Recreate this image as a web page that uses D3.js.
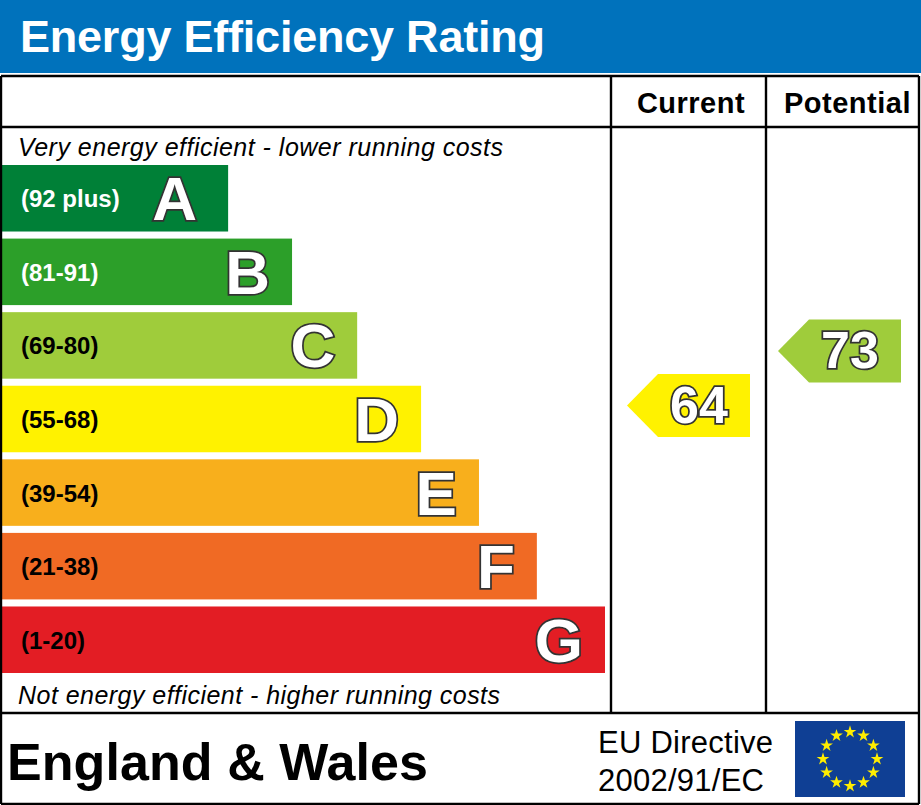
<!DOCTYPE html>
<html>
<head>
<meta charset="utf-8">
<title>Energy Efficiency Rating</title>
<script src="https://d3js.org/d3.v7.min.js"></script>
<style>
html, body { margin: 0; padding: 0; background: #fff; }
svg { display: block; }
text { font-family: "Liberation Sans", Arial, sans-serif; }
</style>
</head>
<body>
<svg id="chart" width="921" height="805"></svg>
<script>
const title = "Energy Efficiency Rating";
const bands = ["A", "B", "C", "D", "E", "F", "G"];
const ranges = ["(92 plus)", "(81-91)", "(69-80)", "(55-68)", "(39-54)", "(21-38)", "(1-20)"];
// bar length as percent of the widest bar
const barLengths = [37.5, 48.1, 58.9, 69.5, 79.1, 88.7, 100];
const barColors = ["#008037", "#2c9f29", "#9fcc3b", "#fff200", "#f8af1c", "#f06a24", "#e31d24"];
const rangeColors = ["#fff", "#fff", "#000", "#000", "#000", "#000", "#000"];
const columns = ["Current", "Potential"];
const ratings = [64, 73];
const ratingColors = ["#fff200", "#9fcc3b"];
const topNote = "Very energy efficient - lower running costs";
const bottomNote = "Not energy efficient - higher running costs";
const country = "England & Wales";
const directive = ["EU Directive", "2002/91/EC"];

const svg = d3.select("#chart");

// scales
const x = d3.scaleLinear().domain([0, 100]).range([2, 605]);
const y = d3.scaleBand().domain(bands).range([165, 673]).paddingInner(0.096);
const ratingY = d3.scaleLinear().domain([0, 100]).range([793, 187.5]);
const colX = d3.scaleOrdinal().domain(columns).range([691, 847.5]);
const arrowX = d3.scaleOrdinal().domain(columns).range([627, 778]);

// header
svg.append("rect").attr("width", 921).attr("height", 73).attr("fill", "#0072bc");
svg.append("text").attr("x", 20).attr("y", 52)
    .attr("font-size", 45).attr("font-weight", "bold").attr("fill", "#fff")
    .attr("textLength", 525).text(title);

// bars
const rows = svg.selectAll(".band").data(bands).enter().append("g").attr("class", "band");
rows.append("rect")
    .attr("x", x(0))
    .attr("y", d => y(d))
    .attr("width", (d, i) => x(barLengths[i]) - x(0))
    .attr("height", y.bandwidth())
    .attr("fill", (d, i) => barColors[i]);
rows.append("text")
    .attr("x", 21)
    .attr("y", d => y(d) + y.bandwidth() / 2 + 9)
    .attr("font-size", 24).attr("font-weight", "bold")
    .attr("fill", (d, i) => rangeColors[i])
    .text((d, i) => ranges[i]);
rows.append("text")
    .attr("x", (d, i) => x(barLengths[i]) - (d == "A" ? 31 : 22))
    .attr("y", d => y(d) + y.bandwidth() / 2 + 22)
    .attr("text-anchor", "end")
    .attr("font-size", 62).attr("font-weight", "bold")
    .attr("fill", "#fff").attr("stroke", "#333").attr("stroke-width", 3.5)
    .attr("paint-order", "stroke")
    .text(d => d);

// rating arrows
const arrows = svg.selectAll(".rating").data(ratings).enter().append("g").attr("class", "rating");
arrows.append("path")
    .attr("d", (d, i) => {
        const left = arrowX(columns[i]), right = left + 123, cy = ratingY(d);
        return d3.line()([[left, cy], [left + 31, cy - 31.5], [right, cy - 31.5], [right, cy + 31.5], [left + 31, cy + 31.5]]) + "Z";
    })
    .attr("fill", (d, i) => ratingColors[i]);
arrows.append("text")
    .attr("x", (d, i) => arrowX(columns[i]) + 72)
    .attr("y", d => ratingY(d) + 17.5)
    .attr("text-anchor", "middle")
    .attr("font-size", 52).attr("font-weight", "bold")
    .attr("fill", "#fff").attr("stroke", "#333").attr("stroke-width", 3.5)
    .attr("paint-order", "stroke")
    .text(d => d);

// frame lines
const frame = svg.append("g").attr("stroke", "#000").attr("stroke-width", 2.4);
[[1, 76, 919, 76], [1, 127, 919, 127], [1, 713, 919, 713], [1, 804, 919, 804],
 [1, 76, 1, 804], [919, 76, 919, 804], [611, 76, 611, 713], [766, 76, 766, 713]].forEach(l => {
    frame.append("line").attr("x1", l[0]).attr("y1", l[1]).attr("x2", l[2]).attr("y2", l[3]);
});

// column titles
svg.selectAll(".coltitle").data(columns).enter().append("text")
    .attr("x", d => colX(d))
    .attr("y", 113)
    .attr("text-anchor", "middle")
    .attr("font-size", 29).attr("font-weight", "bold")
    .attr("letter-spacing", 0.5)
    .text(d => d);

// notes
svg.append("text").attr("x", 18).attr("y", 156).attr("font-size", 25)
    .attr("font-style", "italic").attr("textLength", 485).text(topNote);
svg.append("text").attr("x", 18).attr("y", 704).attr("font-size", 25)
    .attr("font-style", "italic").attr("textLength", 482).text(bottomNote);

// footer
svg.append("text").attr("x", 7).attr("y", 780).attr("font-size", 52)
    .attr("font-weight", "bold").attr("textLength", 421).text(country);
svg.selectAll(".directive").data(directive).enter().append("text")
    .attr("x", 598)
    .attr("y", (d, i) => 753 + i * 38)
    .attr("font-size", 31)
    .attr("letter-spacing", 0.25)
    .text(d => d);

// EU flag
const stars = d3.range(12);
const flag = svg.append("g").attr("transform", "translate(795,721)");
flag.append("rect").attr("width", 110).attr("height", 76).attr("fill", "#0f3f94");
const starAngle = d3.scaleLinear().domain([0, 12]).range([0, 2 * Math.PI]);
flag.selectAll("path").data(stars).enter().append("path")
    .attr("d", d3.symbol(d3.symbolStar, 50))
    .attr("transform", d => `translate(${55 + 27 * Math.sin(starAngle(d))},${38 - 27 * Math.cos(starAngle(d))})`)
    .attr("fill", "#ffed00");
</script>
</body>
</html>
